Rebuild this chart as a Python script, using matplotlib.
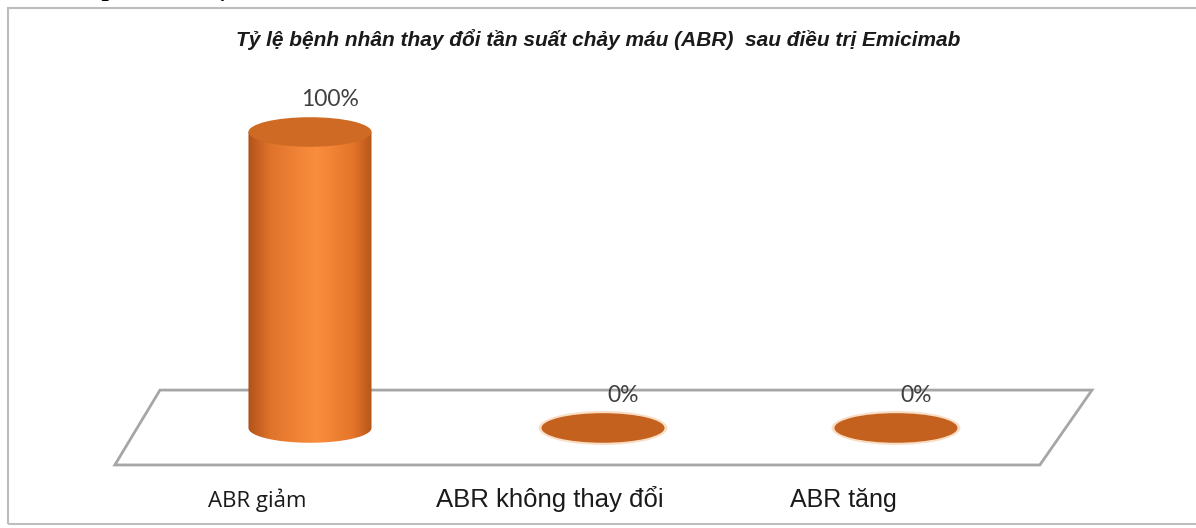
import numpy as np
import matplotlib.pyplot as plt
from matplotlib.patches import Ellipse, Polygon, Rectangle
from matplotlib.path import Path
from matplotlib.patches import PathPatch
import matplotlib.colors as mcolors

categories = ['ABR giảm', 'ABR không thay đổi', 'ABR tăng']
values = [100, 0, 0]
value_labels = ['100%', '0%', '0%']
title = 'Tỷ lệ bệnh nhân thay đổi tần suất chảy máu (ABR)  sau điều trị Emicimab'
heading = '2. Kết quả điều trị Emicimab'

W, H = 1196, 528
R = 0.21      # cylinder half width (category units)
E = 10.0      # ellipse height (percent units)

body_cmap = mcolors.LinearSegmentedColormap.from_list(
    'body', [(0, '#B0531A'), (0.18, '#E0732B'), (0.55, '#FA8E3E'),
             (0.85, '#E47529'), (1, '#B5561B')])


def cylinder(ax, x, v):
    # body outline: rectangle + lower half of bottom ellipse
    t = np.linspace(np.pi, 2 * np.pi, 40)
    bottom = np.column_stack([x + R * np.cos(t), E / 2 * np.sin(t)])
    pts = np.vstack([[x - R, v], bottom, [x + R, v], [x - R, v]])
    clip = PathPatch(Path(pts), facecolor='none', edgecolor='none')
    ax.add_patch(clip)
    if v > 0:
        grad = np.linspace(0, 1, 256).reshape(1, -1)
        im = ax.imshow(grad, cmap=body_cmap, aspect='auto',
                       extent=[x - R, x + R, -E, v], zorder=3)
        im.set_clip_path(clip)
        top_color = '#CF6A25'
    else:
        top_color = '#C5611F'
        ax.add_patch(Ellipse((x, v), 2 * R + 0.02, E + 1.5, facecolor='#F6C9A0',
                             edgecolor='none', zorder=3, alpha=0.6))
    ax.add_patch(Ellipse((x, v), 2 * R, E, angle=0, facecolor=top_color,
                         edgecolor='none', zorder=4))


fig = plt.figure(figsize=(W / 100, H / 100), dpi=100)
ax = fig.add_axes([0, 0, 1, 1])
ax.set_xlim(-1.058, 3.024)
ax.set_ylim(-33.8, 144.6)
ax.axis('off')

# outer chart border
ax.add_patch(Rectangle((8 / W, 4 / H), 1.2, 1 - 12 / H, transform=ax.transAxes,
                       facecolor='none', edgecolor='#BDBDBD', lw=1.5, clip_on=False))

# floor
n = len(categories)
floor = [(-0.666, -12.5), (-0.512, 12.8), (n - 1 + 0.669, 12.8), (n - 1 + 0.491, -12.5)]
ax.add_patch(Polygon(floor, closed=True, facecolor='white', edgecolor='#A6A6A6',
                     lw=2, zorder=1))

for i, (v, lab) in enumerate(zip(values, value_labels)):
    cylinder(ax, i, v)
    ax.text(i + 0.07, v + 11, lab, ha='center', va='center', fontsize=16.5,
            color='#404040', family=['Lato', 'DejaVu Sans'])

label_sizes = [16, 18.5, 18]
label_fams = [['Open Sans', 'DejaVu Sans'], ['Liberation Sans', 'DejaVu Sans'],
              ['Liberation Sans', 'DejaVu Sans']]
for i, cat in enumerate(categories):
    ax.text(i - 0.18, -26.7, cat, ha='center', va='baseline', fontsize=label_sizes[i],
            color='#1a1a1a', family=label_fams[i])

fig.text(0.5, 1 - 46 / H, title, ha='center', va='baseline', fontsize=15,
         fontweight='bold', fontstyle='italic', color='#1a1a1a',
         family=['Liberation Sans', 'DejaVu Sans'])

fig.text(20 / W, 1 + 4 / H, heading, ha='left', va='baseline', fontsize=19,
         fontweight='bold', color='black', family=['Liberation Serif', 'DejaVu Serif'])

fig.savefig('out.png', dpi=100)
